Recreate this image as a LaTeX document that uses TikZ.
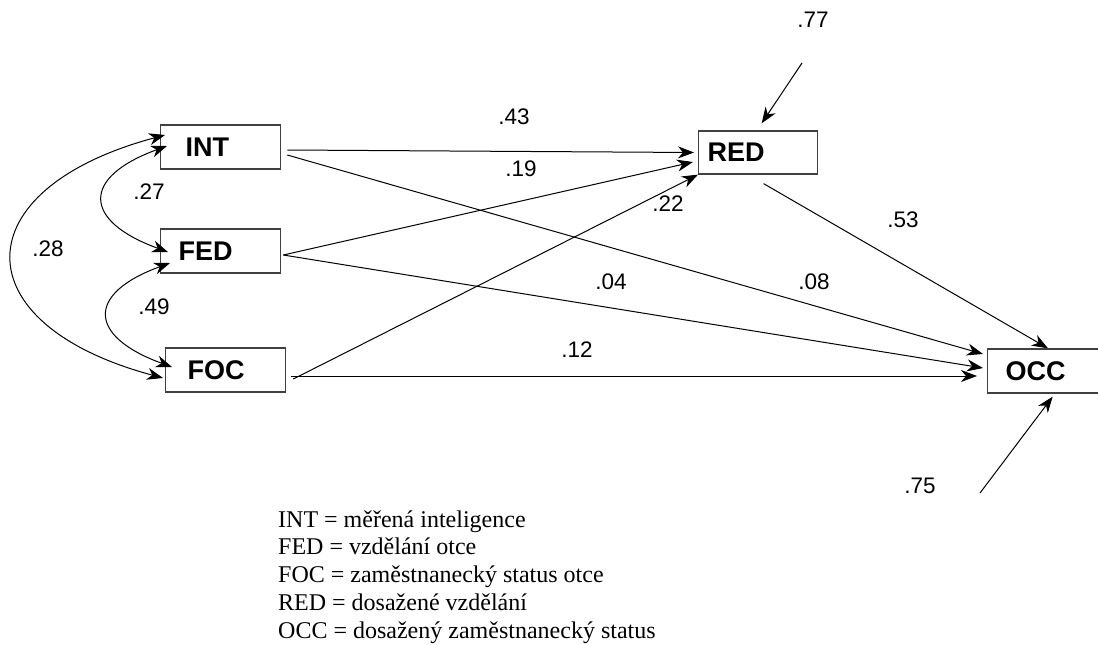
\documentclass[tikz,border=0pt]{standalone}
\usepackage{fontspec}
\setmainfont{Liberation Serif}
\newfontfamily\arialfont{Liberation Sans}
\usetikzlibrary{arrows.meta}

\begin{document}
\begin{tikzpicture}[x=1pt,y=-1pt,>={Stealth[length=16pt,width=12pt,inset=5pt]},
  varbox/.style 2 args={draw=black!75,line width=1.3pt,rectangle,anchor=west,minimum height=44pt,inner ysep=4pt,inner xsep=#1,text width=#2,align=left,font=\arialfont\bfseries\fontsize{27}{30}\selectfont},
  coef/.style={font=\arialfont\fontsize{22.5}{26}\selectfont},
  key/.style={anchor=base west,inner sep=0pt,font=\fontsize{24}{28}\selectfont},
  eff/.style={->,line width=1pt},
  cov/.style={<->,line width=1pt}]
\useasboundingbox (0,0) rectangle (1098,645);

\node[varbox={25pt}{70pt}] (INT) at (160,147) {INT};
\node[varbox={18pt}{84pt}] (FED) at (160,251) {FED};
\node[varbox={22pt}{76pt}] (FOC) at (165,370) {FOC};
\node[varbox={9pt}{101pt},minimum height=43pt] (RED) at (698,152.5) {RED};
\node[varbox={18pt}{84pt}] (OCC) at (987,371) {OCC};

\coordinate (eRED) at (802,63);
\coordinate (eOCC) at (980,493);

\draw[cov] ([shift={(5,-12)}]INT.west) to[out=195,in=165,looseness=2.2] ([shift={(-2,8)}]FOC.west);
\draw[cov] ([shift={(7,-1)}]INT.west) to[out=200,in=160,looseness=2.2] ([shift={(8,1)}]FED.west);
\draw[cov] ([shift={(10,12)}]FED.west) to[out=200,in=160,looseness=2.2] ([shift={(7,-3)}]FOC.west);

\draw[eff] ([shift={(6,3)}]INT.east) -- ([shift={(-4,0)}]RED.west);
\draw[eff] ([shift={(6,8)}]INT.east) -- ([shift={(-4,-17)}]OCC.west);
\draw[eff] ([shift={(2,4)}]FED.east) -- ([shift={(-5,9.5)}]RED.west);
\draw[eff] ([shift={(2,4)}]FED.east) -- ([shift={(-4,-3)}]OCC.west);
\draw[eff] ([shift={(7,9)}]FOC.east) -- (RED.south west);
\draw[eff] ([shift={(5,6)}]FOC.east) -- ([shift={(-10,5)}]OCC.west);
\draw[eff] ([shift={(5.5,9)}]RED.south) -- ([shift={(61,0)}]OCC.north west);
\draw[eff] (eRED) -- ([shift={(3.5,-7)}]RED.north);
\draw[eff] (eOCC) -- ([shift={(5,3)}]OCC.south);

\node[coef] (c27) at (149,192) {.27};
\node[coef] (c28) at (48,249) {.28};
\node[coef] (c49) at (154,307) {.49};
\node[coef] (c43) at (514,117) {.43};
\node[coef] (c19) at (521,169) {.19};
\node[coef] (c22) at (668,204) {.22};
\node[coef] (c04) at (611,282) {.04};
\node[coef] (c08) at (814,282) {.08};
\node[coef] (c12) at (577,350) {.12};
\node[coef] (c53) at (903,220) {.53};
\node[coef] (c77) at (813,20) {.77};
\node[coef] (c75) at (920,486) {.75};

\node[key] (kINT) at (278,527) {INT = měřená inteligence};
\node[key] (kFED) at (278,554.8) {FED = vzdělání otce};
\node[key] (kFOC) at (278,582.6) {FOC = zaměstnanecký status otce};
\node[key] (kRED) at (278,610.4) {RED = dosažené vzdělání};
\node[key] (kOCC) at (278,638.2) {OCC = dosažený zaměstnanecký status};
\end{tikzpicture}
\end{document}
